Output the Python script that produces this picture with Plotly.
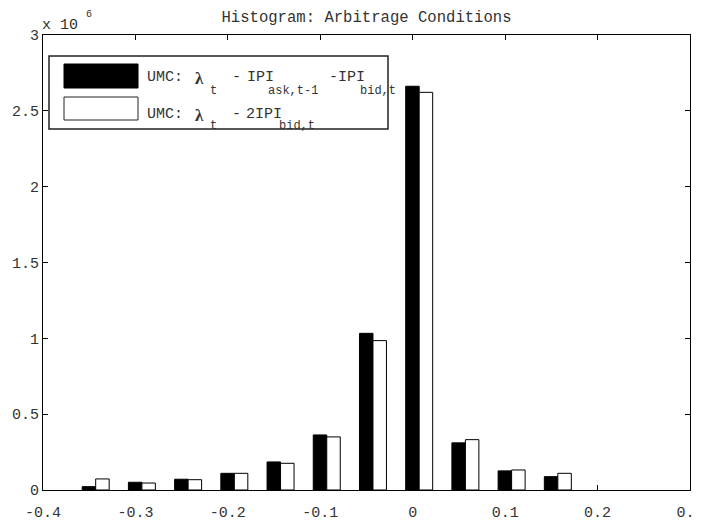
import plotly.graph_objects as go

# bin centres of the histogram and counts for both conditions
bin_centers = [-0.343, -0.293, -0.243, -0.193, -0.143, -0.093, -0.043, 0.007, 0.057, 0.107, 0.157]
umc_ask_bid = [22000, 51000, 71000, 110000, 185000, 363000, 1033000, 2662000, 311000, 126000, 88000]
umc_2bid = [73000, 46000, 68000, 110000, 176000, 350000, 985000, 2622000, 332000, 132000, 110000]

x_ticks = [-0.4, -0.3, -0.2, -0.1, 0, 0.1, 0.2, 0.3]
x_ticktext = ['-0.4', '-0.3', '-0.2', '-0.1', '0', '0.1', '0.2', '0.3']
y_ticks = [0, 500000, 1000000, 1500000, 2000000, 2500000, 3000000]
y_ticktext = ['0', '0.5', '1', '1.5', '2', '2.5', '3']

FONT = 'Liberation Mono, Courier New, monospace'
TXT = '#333333'
# the page puts the figure 8px in from the corner, so size it to fit the window
PAGE = 8
W, H = 702 - PAGE, 523 - PAGE
# plot box in window pixels
X0, X1, Y0, Y1 = 43, 690, 35, 490
bar_w = 0.0146

fig = go.Figure()
fig.add_trace(go.Bar(x=bin_centers, y=umc_ask_bid, width=bar_w, offset=-bar_w,
                     marker=dict(color='black', line=dict(color='black', width=1)),
                     showlegend=False))
fig.add_trace(go.Bar(x=bin_centers, y=umc_2bid, width=bar_w, offset=0,
                     marker=dict(color='white', line=dict(color='black', width=1)),
                     showlegend=False))


def px(p):
    return (p - X0) / (X1 - X0)


def py(p):
    return (Y1 - p) / (Y1 - Y0)


def label(text, x, y, size=15, family=FONT, **kw):
    fig.add_annotation(text=text, x=px(x), y=py(y), xref='paper', yref='paper',
                       xanchor='left', yanchor='middle', showarrow=False,
                       font=dict(family=family, size=size, color=TXT), **kw)


# hand-made legend, MATLAB style
fig.add_shape(type='rect', xref='paper', yref='paper', x0=px(49), x1=px(388), y0=py(129), y1=py(56),
              line=dict(color='#222222', width=1.5), fillcolor='white', layer='above')
fig.add_shape(type='rect', xref='paper', yref='paper', x0=px(64), x1=px(138), y0=py(88), y1=py(64),
              line=dict(color='black', width=1), fillcolor='black', layer='above')
fig.add_shape(type='rect', xref='paper', yref='paper', x0=px(64), x1=px(138), y0=py(120), y1=py(97),
              line=dict(color='#222222', width=1), fillcolor='white', layer='above')

LAM = 'Liberation Serif, serif'
label('UMC:', 145, 77)
label('<b>λ</b>', 193, 78, size=17, family=LAM)
label('t', 208, 91, size=12)
label('-', 230, 77)
label('IPI', 245, 77)
label('ask,t-1', 266, 91, size=12)
label('-', 327, 77)
label('IPI', 336, 77)
label('bid,t', 358, 91, size=12)

label('UMC:', 145, 114)
label('<b>λ</b>', 193, 115, size=17, family=LAM)
label('t', 208, 126, size=12)
label('-', 230, 114)
label('2IPI', 244, 114)
label('bid,t', 277, 126, size=12)

# exponent label
label('x 10', 40, 25, size=15)
label('6', 84, 15, size=10)

fig.update_layout(
    width=W, height=H,
    margin=dict(l=X0 - PAGE, r=W + PAGE - X1, t=Y0 - PAGE, b=H + PAGE - Y1),
    paper_bgcolor='white', plot_bgcolor='white',
    barmode='overlay',
    font=dict(family=FONT, size=15, color=TXT),
    title=dict(text='Histogram: Arbitrage Conditions', x=0.5, xref='paper', xanchor='center',
               y=1 - (17 - PAGE) / H, yanchor='middle', font=dict(family=FONT, size=15.6, color=TXT)),
    xaxis=dict(range=[-0.4, 0.3], tickvals=x_ticks, ticktext=x_ticktext, ticks='inside', ticklen=5,
               tickcolor='black', showline=True, linecolor='black', linewidth=1, mirror='ticks',
               showgrid=False, zeroline=False, ticklabelstandoff=8, automargin=False,
               ticklabeloverflow='allow',
               tickfont=dict(family=FONT, size=15, color=TXT)),
    yaxis=dict(range=[0, 3000000], tickvals=y_ticks, ticktext=y_ticktext, ticks='inside', ticklen=5,
               tickcolor='black', showline=True, linecolor='black', linewidth=1, mirror='ticks',
               showgrid=False, zeroline=False, automargin=False,
               tickfont=dict(family=FONT, size=15, color=TXT)),
)

fig.write_html('out.html')
